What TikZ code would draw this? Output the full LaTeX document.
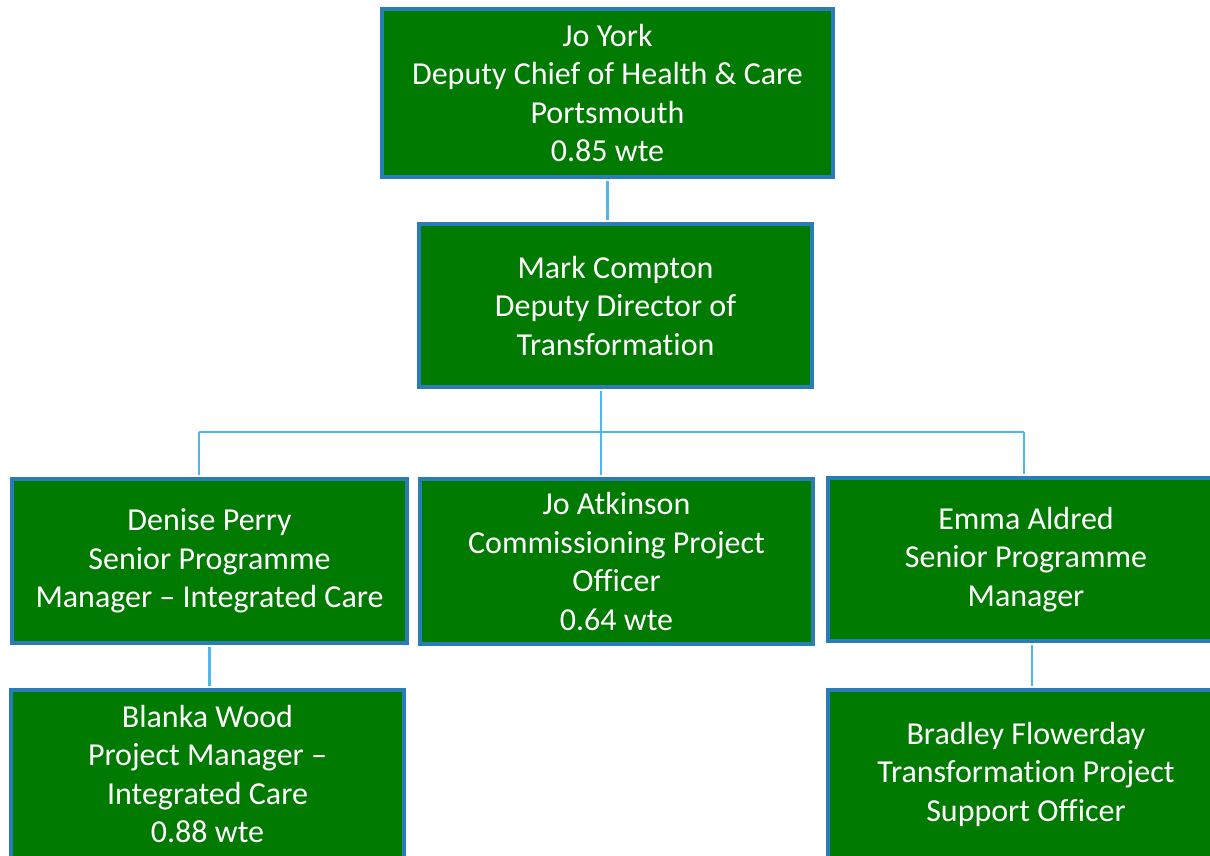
\documentclass[tikz,border=0pt]{standalone}
\usepackage{fontspec}
\setmainfont{Carlito}[Ligatures=NoCommon]
\definecolor{boxgreen}{RGB}{0,122,0}
\definecolor{boxedge}{RGB}{42,124,182}
\definecolor{linkblue}{RGB}{80,182,240}
\begin{document}
\begin{tikzpicture}[x=1pt, y=-1pt,
        box/.style={draw=boxedge, line width=4pt, fill=boxgreen, text=white, align=center, inner sep=0pt, font=\fontsize{32}{38.5}\selectfont},
        link/.style={draw=linkblue, line width=2.2pt}]
        \useasboundingbox (0, 0) rectangle (1210, 855);
        \clip (0, 0) rectangle (1210, 855);

        \coordinate (busl) at (199, 432);
        \coordinate (busm) at (601, 432);
        \coordinate (busr) at (1024, 432);

        \node[box, minimum width=451pt, minimum height=168pt] (york) at (607.5, 93) {Jo York\\Deputy Chief of Health \& Care\\Portsmouth\\0.85 wte};
        \node[box, minimum width=393pt, minimum height=163pt] (mark) at (615.5, 305.5) {Mark Compton\\Deputy Director of\\Transformation};
        \node[box, minimum width=395pt, minimum height=164pt] (denise) at (209.5, 561) {Denise Perry\\Senior Programme\\Manager -- Integrated Care};
        \node[box, minimum width=393pt, minimum height=165pt] (atkinson) at (616.5, 561.5) {Jo Atkinson\\Commissioning Project\\Officer\\0.64 wte};
        \node[box, minimum width=396pt, minimum height=163pt] (emma) at (1026, 559.5) {Emma Aldred\\Senior Programme\\Manager};
        \node[box, minimum width=393pt, minimum height=168pt] (blanka) at (207.5, 774) {Blanka Wood\\Project Manager --\\Integrated Care\\0.88 wte};
        \node[box, minimum width=396pt, minimum height=168pt] (bradley) at (1026, 774) {Bradley Flowerday\\Transformation Project\\Support Officer};

        \draw[link] ([yshift=-2pt]york.south) -- ([yshift=2pt]york.south |- mark.north);
        \draw[link] (busl) -- (busr);
        \draw[link] ([yshift=-2pt]busm |- mark.south) -- (busm) -- ([yshift=2pt]busm |- atkinson.north);
        \draw[link] (busl) -- ([yshift=2pt]busl |- denise.north);
        \draw[link] (busr) -- ([yshift=2pt]busr |- emma.north);
        \draw[link] ([yshift=-2pt]denise.south) -- ([yshift=2pt]denise.south |- blanka.north);
        \draw[link] ([xshift=6pt, yshift=-2pt]emma.south) -- ([xshift=6pt, yshift=2pt]emma.south |- bradley.north);
    \end{tikzpicture}
\end{document}
